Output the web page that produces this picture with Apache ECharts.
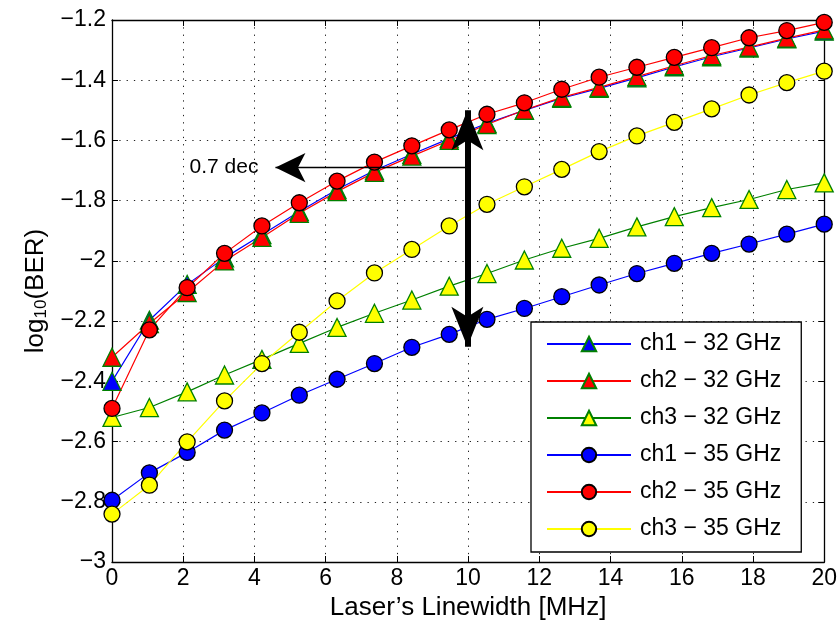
<!DOCTYPE html>
<html>
<head>
<meta charset="utf-8">
<script src="https://cdn.jsdelivr.net/npm/echarts@6/dist/echarts.min.js"></script>
<style>
  html, body { margin: 0; padding: 0; background: #fff; }
  #chart { width: 840px; height: 627px; }
</style>
</head>
<body>
<div id="chart"></div>
<script>
// Laser linewidth sweep (MHz)
const linewidth = [0, 1.05, 2.11, 3.16, 4.21, 5.26, 6.32, 7.37, 8.42, 9.47,
                   10.53, 11.58, 12.63, 13.68, 14.74, 15.79, 16.84, 17.89, 18.95, 20];

// log10(BER) per channel, 32 GBd
const ch1_32 = [-2.40, -2.197, -2.078, -1.990, -1.913, -1.836, -1.763, -1.700, -1.646, -1.594,
                -1.543, -1.500, -1.460, -1.427, -1.392, -1.356, -1.322, -1.293, -1.263, -1.237];
const ch2_32 = [-2.32, -2.208, -2.105, -2.000, -1.922, -1.842, -1.770, -1.706, -1.652, -1.600,
                -1.547, -1.499, -1.457, -1.424, -1.388, -1.352, -1.318, -1.290, -1.260, -1.233];
const ch3_32 = [-2.52, -2.487, -2.435, -2.379, -2.327, -2.274, -2.221, -2.174, -2.130, -2.084,
                -2.042, -1.997, -1.958, -1.925, -1.887, -1.853, -1.823, -1.796, -1.763, -1.741];

// log10(BER) per channel, 35 GBd
const ch1_35 = [-2.795, -2.704, -2.636, -2.562, -2.505, -2.446, -2.393, -2.341, -2.287, -2.244,
                -2.194, -2.158, -2.119, -2.080, -2.042, -2.008, -1.975, -1.944, -1.911, -1.878];
const ch2_35 = [-2.49, -2.229, -2.089, -1.975, -1.884, -1.807, -1.735, -1.672, -1.618, -1.565,
                -1.513, -1.475, -1.430, -1.390, -1.357, -1.324, -1.292, -1.259, -1.235, -1.208];
const ch3_35 = [-2.841, -2.745, -2.601, -2.465, -2.341, -2.237, -2.133, -2.040, -1.962, -1.884,
                -1.812, -1.754, -1.696, -1.637, -1.585, -1.540, -1.495, -1.449, -1.408, -1.370];

const seriesNames = ['ch1 \u2212 32 GHz', 'ch2 \u2212 32 GHz', 'ch3 \u2212 32 GHz',
                     'ch1 \u2212 35 GHz', 'ch2 \u2212 35 GHz', 'ch3 \u2212 35 GHz'];

// Annotation: penalty arrow at 10 MHz and the "0.7 dec" pointer
const penaltyX = 9.98;
const penaltyTop = -1.50;
const penaltyBottom = -2.285;
const pointerY = -1.69;
const pointerEndX = 4.59;
const pointerText = '0.7 dec';

const FONT = '"Liberation Sans", Arial, Helvetica, sans-serif';

function pairs(ys) { return ys.map((y, i) => [linewidth[i], y]); }
function fmtNum(v) {
  const r = Math.round(v * 10) / 10;
  const s = String(Math.abs(r));
  return (r < 0 ? '\u2212' : '') + s;
}

function lineSeries(name, ys, lineColor, symbol, fill, edge, size) {
  return {
    name: name,
    type: 'line',
    data: pairs(ys),
    symbol: symbol,
    symbolSize: size,
    showAllSymbol: true,
    lineStyle: { color: lineColor, width: 1.2 },
    itemStyle: { color: fill, borderColor: edge, borderWidth: 1.3 },
    emphasis: { disabled: true },
    animation: false,
    z: 3
  };
}

const series = [
  lineSeries(seriesNames[0], ch1_32, '#0000ff', 'triangle', '#0000ff', '#008000', 18),
  lineSeries(seriesNames[1], ch2_32, '#ff0000', 'triangle', '#ff0000', '#008000', 18),
  lineSeries(seriesNames[2], ch3_32, '#008000', 'triangle', '#ffff00', '#008000', 18),
  lineSeries(seriesNames[3], ch1_35, '#0000ff', 'circle', '#0000ff', '#000000', 16),
  lineSeries(seriesNames[4], ch2_35, '#ff0000', 'circle', '#ff0000', '#000000', 16),
  lineSeries(seriesNames[5], ch3_35, '#ffff00', 'circle', '#ffff00', '#000000', 16),
  {
    type: 'line',
    data: [],
    silent: true,
    animation: false,
    z: 10,
    markLine: {
      silent: true,
      animation: false,
      precision: 3,
      data: [
        [
          { coord: [penaltyX, pointerY], symbol: 'none',
            lineStyle: { color: '#000', width: 1.3, type: 'solid' },
            label: { show: true, position: 'end', formatter: pointerText,
                     color: '#000', fontSize: 21, fontFamily: FONT, distance: 17 } },
          { coord: [pointerEndX, pointerY], symbol: 'arrow', symbolSize: [22, 30] }
        ],
        [
          { coord: [penaltyX, penaltyBottom], symbol: 'arrow', symbolSize: [24, 40],
            lineStyle: { color: '#000', width: 6, type: 'solid' },
            label: { show: false } },
          { coord: [penaltyX, penaltyTop], symbol: 'arrow', symbolSize: [24, 40] }
        ]
      ]
    }
  }
];

const chart = echarts.init(document.getElementById('chart'), null, { renderer: 'canvas' });

chart.setOption({
  backgroundColor: '#ffffff',
  animation: false,
  textStyle: { fontFamily: FONT },
  grid: { left: 112, right: 14, top: 20, bottom: 65, containLabel: false },
  xAxis: [
    {
      type: 'value', min: 0, max: 20, interval: 2,
      name: 'Laser\u2019s Linewidth [MHz]',
      nameLocation: 'middle', nameGap: 31,
      nameTextStyle: { fontSize: 26, color: '#000', fontFamily: FONT },
      axisLine: { onZero: false, lineStyle: { color: '#000', width: 1.3 } },
      axisTick: { inside: true, length: 6, lineStyle: { color: '#000' } },
      axisLabel: { color: '#000', fontSize: 23, margin: 5, fontFamily: FONT, formatter: fmtNum },
      splitLine: { show: true, lineStyle: { color: '#222', width: 1, type: [1.3, 6] } }
    },
    {
      type: 'value', min: 0, max: 20, interval: 2, position: 'top',
      axisLine: { onZero: false, lineStyle: { color: '#000', width: 1.3 } },
      axisTick: { inside: true, length: 6, lineStyle: { color: '#000' } },
      axisLabel: { show: false },
      splitLine: { show: false }
    }
  ],
  yAxis: [
    {
      type: 'value', min: -3, max: -1.2, interval: 0.2,
      name: 'log{sub|10}(BER)',
      nameLocation: 'middle', nameGap: 61, nameRotate: 90,
      nameTextStyle: {
        fontSize: 26, color: '#000', fontFamily: FONT,
        rich: { sub: { fontSize: 17, verticalAlign: 'bottom', padding: [11, 0, 0, 0], color: '#000', fontFamily: FONT } }
      },
      axisLine: { onZero: false, lineStyle: { color: '#000', width: 1.3 } },
      axisTick: { inside: true, length: 6, lineStyle: { color: '#000' } },
      axisLabel: { color: '#000', fontSize: 23, margin: 6, fontFamily: FONT, formatter: fmtNum },
      splitLine: { show: true, lineStyle: { color: '#222', width: 1, type: [1.3, 6] } }
    },
    {
      type: 'value', min: -3, max: -1.2, interval: 0.2, position: 'right',
      axisLine: { onZero: false, lineStyle: { color: '#000', width: 1.3 } },
      axisTick: { inside: true, length: 6, lineStyle: { color: '#000' } },
      axisLabel: { show: false },
      splitLine: { show: false }
    }
  ],
  legend: {
    data: seriesNames,
    orient: 'vertical',
    left: 531, top: 322,
    padding: [9, 20, 10, 15],
    backgroundColor: '#ffffff',
    borderColor: '#000', borderWidth: 1.3,
    itemWidth: 84, itemHeight: 18, itemGap: 11,
    selectedMode: false,
    textStyle: { fontSize: 23, color: '#000', fontFamily: FONT, padding: [0, 0, 0, 4], lineHeight: 26 },
    z: 20
  },
  series: series
});
</script>
</body>
</html>
